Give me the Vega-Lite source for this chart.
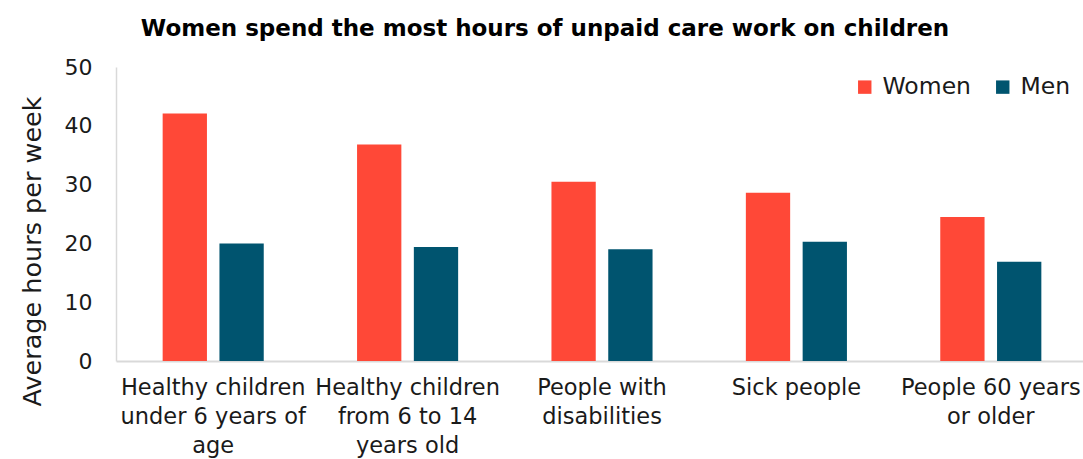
{
  "$schema": "https://vega.github.io/schema/vega-lite/v6.json",
  "width": 972,
  "height": 294,
  "autosize": {"type": "none"},
  "padding": {"left": 116, "top": 67, "right": 0, "bottom": 98},
  "config": {
    "view": {"stroke": null},
    "font": "DejaVu Sans"
  },
  "title": {
    "text": "Women spend the most hours of unpaid care work on children",
    "fontSize": 23,
    "fontWeight": "bold",
    "font": "DejaVu Sans",
    "color": "#000000",
    "anchor": "middle",
    "frame": "group",
    "dx": -57,
    "offset": 15
  },
  "data": {
    "values": [
      {"category": "Healthy children under 6 years of age", "gender": "Women", "hours": 42.1},
      {"category": "Healthy children under 6 years of age", "gender": "Men", "hours": 20.0},
      {"category": "Healthy children from 6 to 14 years old", "gender": "Women", "hours": 36.8},
      {"category": "Healthy children from 6 to 14 years old", "gender": "Men", "hours": 19.4},
      {"category": "People with disabilities", "gender": "Women", "hours": 30.5},
      {"category": "People with disabilities", "gender": "Men", "hours": 19.0},
      {"category": "Sick people", "gender": "Women", "hours": 28.6},
      {"category": "Sick people", "gender": "Men", "hours": 20.3},
      {"category": "People 60 years or older", "gender": "Women", "hours": 24.5},
      {"category": "People 60 years or older", "gender": "Men", "hours": 16.9}
    ]
  },
  "mark": {"type": "bar"},
  "encoding": {
    "x": {
      "field": "category",
      "type": "nominal",
      "sort": null,
      "scale": {"paddingInner": 0.48, "paddingOuter": 0.24},
      "axis": {
        "title": null,
        "labelAngle": 0,
        "ticks": false,
        "domainColor": "#D9D9D9",
        "domainWidth": 2,
        "labelFontSize": 22.5,
        "labelColor": "#1a1a1a",
        "labelPadding": 15,
        "labelBaseline": "top",
        "labelLineHeight": 29,
        "labelLimit": 400,
        "labelOverlap": false,
        "labelBound": false,
        "labelExpr": "datum.label == 'Healthy children under 6 years of age' ? ['Healthy children', 'under 6 years of', 'age'] : datum.label == 'Healthy children from 6 to 14 years old' ? ['Healthy children', 'from 6 to 14', 'years old'] : datum.label == 'People with disabilities' ? ['People with', 'disabilities'] : datum.label == 'People 60 years or older' ? ['People 60 years', 'or older'] : datum.label"
      }
    },
    "xOffset": {
      "field": "gender",
      "type": "nominal",
      "sort": ["Women", "Men"],
      "scale": {"paddingInner": 0.22, "paddingOuter": 0}
    },
    "y": {
      "field": "hours",
      "type": "quantitative",
      "scale": {"domain": [0, 50]},
      "axis": {
        "title": "Average hours per week",
        "titleFontSize": 25.5,
        "titleFontWeight": "normal",
        "titleColor": "#1a1a1a",
        "titleAngle": -90,
        "titleAlign": "center",
        "titleBaseline": "middle",
        "titleX": -84,
        "titleY": 184,
        "values": [0, 10, 20, 30, 40, 50],
        "grid": false,
        "ticks": false,
        "domainColor": "#D9D9D9",
        "domainWidth": 1.5,
        "labelFontSize": 22,
        "labelColor": "#1a1a1a",
        "labelPadding": 24
      }
    },
    "color": {
      "field": "gender",
      "type": "nominal",
      "scale": {"domain": ["Women", "Men"], "range": ["#FF4837", "#00546F"]},
      "legend": {
        "title": null,
        "orient": "none",
        "direction": "horizontal",
        "legendX": 737,
        "legendY": 8,
        "symbolType": "square",
        "symbolSize": 180,
        "symbolStrokeWidth": 0,
        "labelFontSize": 23.5,
        "labelColor": "#1a1a1a",
        "labelOffset": 6,
        "columnPadding": 20
      }
    }
  }
}
